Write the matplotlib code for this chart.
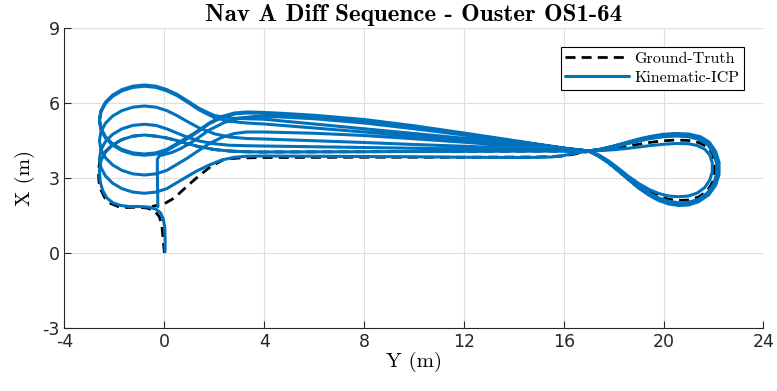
import matplotlib
matplotlib.use('Agg')
import matplotlib.pyplot as plt

# trajectories as (Y, X) pairs
ground_truth = [(0.0, 0.0), (-0.05, 0.6), (-0.1, 1.1), (-0.2, 1.45), (-0.4, 1.7), (-0.7, 1.8), (-1.1, 1.83),
                (-1.5, 1.82), (-1.85, 1.86), (-2.15, 1.98), (-2.38, 2.2), (-2.53, 2.5), (-2.62, 2.85),
                (-2.64, 3.3), (-2.58, 3.7), (-2.39, 4.03), (-2.09, 4.32), (-1.7, 4.535), (-1.266, 4.673),
                (-0.8, 4.72), (-0.334, 4.673), (0.1, 4.6), (0.5, 4.5), (0.9, 4.38), (1.4, 4.25), (2.0, 4.14),
                (2.6, 4.08), (3.2, 4.05), (4.0, 4.04), (8.0, 4.05), (12.0, 4.065), (16.0, 4.08), (17.0, 4.08),
                (17.4, 3.9), (17.8, 3.65), (18.2, 3.34), (18.6, 3.0), (19.0, 2.7), (19.4, 2.45), (19.8, 2.27),
                (20.2, 2.15), (20.6, 2.1), (21.0, 2.12), (21.4, 2.24), (21.75, 2.48), (21.97, 2.85),
                (22.03, 3.2), (22.03, 3.7), (21.95, 4.0), (21.75, 4.25), (21.4, 4.42), (21.0, 4.5),
                (20.5, 4.52), (20.0, 4.49), (19.5, 4.43), (19.0, 4.35), (18.5, 4.26), (18.0, 4.17),
                (17.5, 4.1), (17.0, 4.06), (16.5, 3.97), (16.0, 3.88), (15.0, 3.84), (12.0, 3.83),
                (8.0, 3.83), (4.0, 3.82), (3.0, 3.8), (2.4, 3.75), (1.86, 3.46), (1.4, 3.1), (0.93, 2.69),
                (0.4, 2.2), (0.0, 1.97), (-0.5, 1.86)]

lap1 = [(0.03, 0.05), (0.03, 0.5), (0.02, 1.0), (-0.04, 1.35), (-0.15, 1.6), (-0.35, 1.76), (-0.65, 1.84),
        (-1.0, 1.86), (-1.4, 1.86), (-1.75, 1.9), (-2.05, 2.0), (-2.3, 2.2), (-2.47, 2.5), (-2.57, 2.85),
        (-2.6, 3.3), (-2.539, 3.7), (-2.359, 4.03), (-2.073, 4.32), (-1.7, 4.535), (-1.266, 4.673),
        (-0.8, 4.72), (-0.334, 4.673), (0.1, 4.6), (0.5, 4.5), (0.9, 4.38), (1.4, 4.25), (2.0, 4.14),
        (2.6, 4.08), (3.2, 4.05), (4.0, 4.04), (6.0, 4.045), (8.0, 4.05), (10.0, 4.06), (12.0, 4.065),
        (14.0, 4.07), (15.5, 4.075), (16.5, 4.08), (17.0, 4.08),
        (17.4, 3.92), (17.8, 3.68), (18.2, 3.38), (18.6, 3.06), (19.0, 2.78), (19.4, 2.55), (19.8, 2.38),
        (20.2, 2.28), (20.6, 2.25), (21.0, 2.28), (21.35, 2.4), (21.65, 2.62), (21.85, 2.92), (21.95, 3.25),
        (21.95, 3.6), (21.85, 3.92), (21.65, 4.15), (21.35, 4.3), (21.0, 4.37), (20.5, 4.38), (20.0, 4.35),
        (19.5, 4.3), (19.0, 4.24), (18.5, 4.18), (18.0, 4.13), (17.5, 4.1), (17.0, 4.08),
        (16.5, 4.0), (16.0, 3.9), (15.5, 3.84), (14.5, 3.82), (12.0, 3.83), (10.0, 3.85), (8.0, 3.86),
        (6.0, 3.87), (4.0, 3.88), (3.3, 3.87), (2.8, 3.83), (2.3, 3.72), (1.8, 3.52), (1.3, 3.28),
        (0.9, 3.05)]

lap2 = [(0.473, 2.794), (0.1, 2.575), (-0.334, 2.437), (-0.8, 2.39), (-1.266, 2.437), (-1.7, 2.575),
        (-2.073, 2.794), (-2.359, 3.08), (-2.539, 3.413), (-2.6, 3.77), (-2.539, 4.127), (-2.359, 4.46),
        (-2.073, 4.746), (-1.7, 4.965), (-1.266, 5.103), (-0.8, 5.15), (-0.334, 5.103), (0.1, 4.965),
        (0.5, 4.8), (0.9, 4.64), (1.4, 4.48), (2.0, 4.37), (2.6, 4.31), (3.3, 4.29), (4.0, 4.28),
        (6.0, 4.25), (8.0, 4.22), (10.0, 4.19), (12.0, 4.16), (14.0, 4.13), (15.5, 4.1), (16.5, 4.085),
        (17.0, 4.08),
        (17.4, 3.9), (17.8, 3.64), (18.2, 3.32), (18.6, 2.98), (19.0, 2.66), (19.4, 2.4), (19.8, 2.2),
        (20.2, 2.07), (20.6, 2.01), (21.0, 2.03), (21.4, 2.15), (21.75, 2.4), (22.0, 2.75), (22.12, 3.15),
        (22.12, 3.6), (22.0, 4.0), (21.75, 4.35), (21.4, 4.55), (21.0, 4.65), (20.5, 4.68), (20.0, 4.65),
        (19.5, 4.58), (19.0, 4.48), (18.5, 4.36), (18.0, 4.24), (17.5, 4.14), (17.0, 4.08),
        (16.5, 4.1), (16.0, 4.14), (14.0, 4.28), (12.0, 4.43), (10.0, 4.57), (8.0, 4.7), (6.0, 4.79),
        (4.0, 4.84), (3.3, 4.84), (2.8, 4.78), (2.3, 4.62), (1.8, 4.38), (1.3, 4.05), (0.9, 3.78)]

lap3 = [(0.473, 3.524), (0.1, 3.305), (-0.334, 3.167), (-0.8, 3.12), (-1.266, 3.167), (-1.7, 3.305),
        (-2.073, 3.524), (-2.359, 3.81), (-2.539, 4.143), (-2.6, 4.5), (-2.539, 4.857), (-2.359, 5.19),
        (-2.073, 5.476), (-1.7, 5.695), (-1.266, 5.833), (-0.8, 5.88), (-0.334, 5.833), (0.1, 5.695),
        (0.5, 5.5), (0.9, 5.27), (1.4, 5.0), (2.0, 4.77), (2.6, 4.64), (3.3, 4.58), (4.0, 4.56),
        (6.0, 4.49), (8.0, 4.42), (10.0, 4.34), (12.0, 4.27), (14.0, 4.19), (15.5, 4.13), (16.5, 4.095),
        (17.0, 4.08),
        (17.4, 3.88), (17.8, 3.61), (18.2, 3.29), (18.6, 2.95), (19.0, 2.62), (19.4, 2.35), (19.8, 2.14),
        (20.2, 2.0), (20.6, 1.95), (21.0, 1.97), (21.4, 2.1), (21.78, 2.36), (22.05, 2.72), (22.18, 3.15),
        (22.18, 3.62), (22.05, 4.05), (21.8, 4.4), (21.45, 4.61), (21.0, 4.72), (20.5, 4.75), (20.0, 4.72),
        (19.5, 4.64), (19.0, 4.53), (18.5, 4.4), (18.0, 4.27), (17.5, 4.15), (17.0, 4.08),
        (16.5, 4.13), (16.0, 4.19), (14.0, 4.47), (12.0, 4.76), (10.0, 5.04), (8.0, 5.29), (6.0, 5.46),
        (4.5, 5.55), (3.8, 5.59), (3.3, 5.6), (2.8, 5.56), (2.3, 5.42), (1.8, 5.17), (1.3, 4.82),
        (0.9, 4.56)]

lap4 = [(0.473, 4.314), (0.1, 4.095), (-0.334, 3.957), (-0.8, 3.91), (-1.266, 3.957), (-1.7, 4.095),
        (-2.073, 4.314), (-2.359, 4.6), (-2.539, 4.933), (-2.6, 5.29), (-2.539, 5.647), (-2.359, 5.98),
        (-2.073, 6.266), (-1.7, 6.485), (-1.266, 6.623), (-0.8, 6.67), (-0.334, 6.623), (0.1, 6.485),
        (0.5, 6.3), (0.9, 6.05), (1.4, 5.72), (2.0, 5.42), (2.6, 5.27), (3.3, 5.2), (4.0, 5.16),
        (6.0, 5.0), (8.0, 4.84), (10.0, 4.68), (12.0, 4.52), (14.0, 4.35), (15.5, 4.22), (16.5, 4.12),
        (17.0, 4.08),
        (17.4, 3.87), (17.8, 3.6), (18.2, 3.27), (18.6, 2.93), (19.0, 2.6), (19.4, 2.32), (19.8, 2.1),
        (20.2, 1.96), (20.6, 1.9), (21.0, 1.92), (21.4, 2.05), (21.8, 2.32), (22.08, 2.7), (22.22, 3.14),
        (22.22, 3.63), (22.08, 4.07), (21.83, 4.43), (21.48, 4.65), (21.0, 4.76), (20.5, 4.78),
        (20.0, 4.75), (19.5, 4.67), (19.0, 4.56), (18.5, 4.42), (18.0, 4.28), (17.5, 4.16), (17.0, 4.08),
        (16.5, 4.14), (16.0, 4.2), (14.0, 4.5), (12.0, 4.8), (10.0, 5.09), (8.0, 5.34), (6.0, 5.51),
        (4.5, 5.6), (3.8, 5.63), (3.3, 5.64), (2.8, 5.6), (2.3, 5.46), (1.8, 5.2), (1.3, 4.86),
        (0.9, 4.61)]

lap5 = [(0.473, 4.364), (0.1, 4.145), (-0.334, 4.007), (-0.8, 3.96), (-1.266, 4.007), (-1.7, 4.145),
        (-2.073, 4.364), (-2.359, 4.65), (-2.539, 4.983), (-2.6, 5.34), (-2.539, 5.697), (-2.359, 6.03),
        (-2.073, 6.316), (-1.7, 6.535), (-1.266, 6.673), (-0.8, 6.72), (-0.334, 6.673), (0.1, 6.535),
        (0.5, 6.35), (0.9, 6.1), (1.4, 5.78), (2.0, 5.5), (2.6, 5.4), (3.3, 5.37), (4.0, 5.35),
        (6.0, 5.16), (8.0, 4.97), (10.0, 4.78), (12.0, 4.59), (14.0, 4.4), (15.5, 4.25), (16.5, 4.13),
        (17.0, 4.08),
        (17.4, 3.88), (17.8, 3.62), (18.2, 3.3), (18.6, 2.96), (19.0, 2.63), (19.4, 2.36), (19.8, 2.15),
        (20.2, 2.02), (20.6, 1.96), (21.0, 1.98), (21.4, 2.1), (21.77, 2.36), (22.04, 2.73), (22.17, 3.16),
        (22.17, 3.62), (22.04, 4.04), (21.8, 4.38), (21.45, 4.6), (21.0, 4.7), (20.5, 4.73), (20.0, 4.7),
        (19.5, 4.62), (19.0, 4.51), (18.5, 4.38), (18.0, 4.25), (17.5, 4.14), (17.0, 4.08),
        (16.5, 4.13), (16.0, 4.18), (14.0, 4.45), (12.0, 4.72), (10.0, 4.97), (8.0, 5.2), (6.0, 5.37),
        (4.5, 5.45), (3.6, 5.46), (3.0, 5.4), (2.4, 5.22), (1.8, 4.92), (1.2, 4.5), (0.7, 4.2),
        (0.3, 4.02), (0.0, 3.94), (-0.2, 3.89), (-0.28, 3.75), (-0.28, 3.3), (-0.27, 2.6), (-0.26, 1.85)]

x_ticks = [-4, 0, 4, 8, 12, 16, 20, 24]
y_ticks = [-3, 0, 3, 6, 9]

plt.rcParams['axes.unicode_minus'] = False
plt.rcParams['font.family'] = ['DejaVu Sans']

fig = plt.figure(figsize=(7.77, 3.91), dpi=100)
ax = fig.add_axes([0.083, 0.1611, 0.8996, 0.7673])

gy, gx = zip(*ground_truth)
ax.plot(gy, gx, color='black', lw=2.0, ls=(0, (3.6, 2.2)), label='Ground-Truth', zorder=2)

kicp = lap1 + lap2 + lap3 + lap4 + lap5
ky, kx = zip(*kicp)
ax.plot(ky, kx, color='#0072BD', lw=2.2, label='Kinematic-ICP', zorder=3,
        solid_joinstyle='round', solid_capstyle='round')

ax.set_xlim(-4, 24)
ax.set_ylim(-3, 9)
ax.set_xticks(x_ticks)
ax.set_yticks(y_ticks)
ax.tick_params(direction='in', length=5, width=0.8, labelsize=12.5, colors='#262626')
ax.grid(True, color='#dedede', lw=0.8)
ax.set_axisbelow(True)
for s in ['top', 'right']:
    ax.spines[s].set_visible(False)
for s in ['left', 'bottom']:
    ax.spines[s].set_color('#262626')
    ax.spines[s].set_linewidth(0.8)

ax.set_xlabel('Y (m)', family='cmr10', fontsize=15, labelpad=1)
ax.set_ylabel('X (m)', family='cmr10', fontsize=15, labelpad=5)
ax.set_title('Nav A Diff Sequence - Ouster OS1-64', family='cmb10', fontsize=18, pad=5)

leg = ax.legend(loc='upper right', bbox_to_anchor=(0.972, 0.937), prop={'family': 'cmr10', 'size': 11.5},
                fancybox=False, framealpha=1, edgecolor='black', handlelength=4.0, handletextpad=0.3,
                borderpad=0.3, labelspacing=0.3, borderaxespad=0)
leg.get_frame().set_linewidth(0.8)

plt.savefig('out.png', dpi=100)
